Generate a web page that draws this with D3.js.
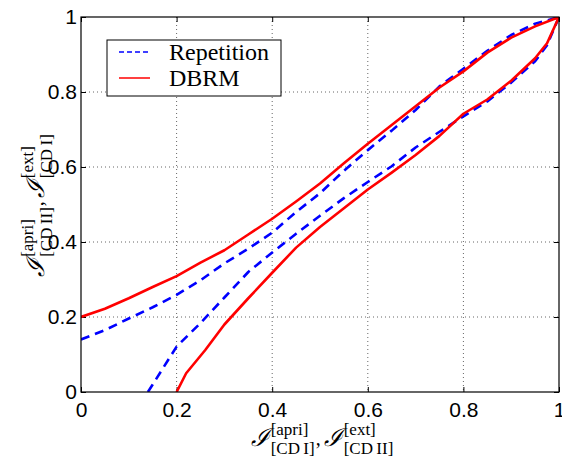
<!DOCTYPE html>
<html>
<head>
<meta charset="utf-8">
<script src="https://cdn.jsdelivr.net/npm/d3@7"></script>
<style>
  body { margin: 0; background: #fff; }
  .tick text { font-family: "Liberation Sans", Arial, sans-serif; font-size: 21px; fill: #000; }
</style>
</head>
<body>
<div id="chart"></div>
<script>
// ticks
var TICK_VALUES = [0, 0.2, 0.4, 0.6, 0.8, 1];
var TICK_LABELS = ["0", "0.2", "0.4", "0.6", "0.8", "1"];

// legend
var SERIES_NAMES = ["Repetition", "DBRM"];

// Repetition (blue dashed), upper branch
var repUpperX = [0, 0.05, 0.1, 0.15, 0.2, 0.25, 0.3, 0.35, 0.4, 0.45, 0.5, 0.55, 0.6, 0.65, 0.7, 0.75, 0.8, 0.85, 0.9, 0.95, 1];
var repUpperY = [0.14, 0.165, 0.196, 0.226, 0.259, 0.298, 0.343, 0.382, 0.425, 0.48, 0.53, 0.59, 0.645, 0.697, 0.752, 0.815, 0.862, 0.91, 0.952, 0.982, 1];
// Repetition, lower branch
var repLowerX = [0.14, 0.15, 0.2, 0.25, 0.3, 0.35, 0.4, 0.45, 0.5, 0.55, 0.6, 0.65, 0.7, 0.75, 0.8, 0.85, 0.9, 0.95, 0.975, 1];
var repLowerY = [0, 0.02, 0.121, 0.184, 0.252, 0.32, 0.372, 0.422, 0.47, 0.517, 0.56, 0.602, 0.652, 0.694, 0.735, 0.775, 0.825, 0.882, 0.925, 1];
// DBRM (red solid), upper branch
var dbrmUpperX = [0, 0.05, 0.1, 0.15, 0.2, 0.25, 0.3, 0.35, 0.4, 0.45, 0.5, 0.55, 0.6, 0.65, 0.7, 0.75, 0.8, 0.85, 0.9, 0.95, 1];
var dbrmUpperY = [0.2, 0.222, 0.25, 0.28, 0.309, 0.345, 0.378, 0.42, 0.462, 0.508, 0.556, 0.61, 0.662, 0.712, 0.762, 0.812, 0.855, 0.905, 0.945, 0.975, 1];
// DBRM, lower branch
var dbrmLowerX = [0.2, 0.22, 0.26, 0.3, 0.35, 0.4, 0.45, 0.5, 0.55, 0.6, 0.65, 0.7, 0.75, 0.8, 0.85, 0.9, 0.95, 0.975, 1];
var dbrmLowerY = [0, 0.05, 0.112, 0.18, 0.25, 0.318, 0.385, 0.44, 0.49, 0.54, 0.585, 0.632, 0.683, 0.742, 0.78, 0.83, 0.89, 0.93, 1];

function zip(xs, ys) {
  return xs.map(function(x, i) { return [x, ys[i]]; });
}

var curves = [
  {pts: zip(repUpperX, repUpperY), color: "#0000ff", dash: "9,6"},
  {pts: zip(repLowerX, repLowerY), color: "#0000ff", dash: "9,6"},
  {pts: zip(dbrmUpperX, dbrmUpperY), color: "#ff0000", dash: null},
  {pts: zip(dbrmLowerX, dbrmLowerY), color: "#ff0000", dash: null}
];

var W = 562, H = 459;
var margin = {top: 17, right: 3, bottom: 67, left: 81};
var width = W - margin.left - margin.right;
var height = H - margin.top - margin.bottom;

var svg = d3.select("#chart").append("svg")
    .attr("width", W)
    .attr("height", H);
var g = svg.append("g")
    .attr("transform", "translate(" + margin.left + "," + margin.top + ")");

var x = d3.scaleLinear().domain([0, 1]).range([0, width]);
var y = d3.scaleLinear().domain([0, 1]).range([height, 0]);

// dotted grid
var grid = TICK_VALUES.slice(1, -1);
g.append("g").selectAll("line").data(grid).enter().append("line")
    .attr("x1", function(d) { return x(d); }).attr("x2", function(d) { return x(d); })
    .attr("y1", 0).attr("y2", height)
    .attr("stroke", "#666").attr("stroke-dasharray", "1,3");
g.append("g").selectAll("line").data(grid).enter().append("line")
    .attr("y1", function(d) { return y(d); }).attr("y2", function(d) { return y(d); })
    .attr("x1", 0).attr("x2", width)
    .attr("stroke", "#666").attr("stroke-dasharray", "1,3");

// axes, ticks pointing inward
var fmt = function(d, i) { return TICK_LABELS[i]; };
g.append("g").attr("transform", "translate(0," + height + ")")
    .call(d3.axisBottom(x).tickValues(TICK_VALUES).tickFormat(fmt).tickSize(-5).tickPadding(10));
g.append("g")
    .call(d3.axisLeft(y).tickValues(TICK_VALUES).tickFormat(fmt).tickSize(-5).tickPadding(4));
g.append("g")
    .call(d3.axisTop(x).tickValues(TICK_VALUES).tickFormat("").tickSize(-5));
g.append("g").attr("transform", "translate(" + width + ",0)")
    .call(d3.axisRight(y).tickValues(TICK_VALUES).tickFormat("").tickSize(-5));
g.selectAll(".domain").remove();
g.selectAll(".tick line").attr("stroke", "#000");

// curves
g.append("clipPath").attr("id", "plotclip")
  .append("rect").attr("x", 0).attr("y", 0).attr("width", width).attr("height", height);

var line = d3.line()
    .x(function(d) { return x(d[0]); })
    .y(function(d) { return y(d[1]); });

g.append("g").attr("clip-path", "url(#plotclip)")
  .selectAll("path").data(curves).enter().append("path")
    .attr("d", function(d) { return line(d.pts); })
    .attr("fill", "none")
    .attr("stroke", function(d) { return d.color; })
    .attr("stroke-width", 2.6)
    .attr("stroke-linejoin", "round")
    .attr("stroke-dasharray", function(d) { return d.dash; });

// frame
g.append("rect")
    .attr("width", width).attr("height", height)
    .attr("fill", "none").attr("stroke", "#000").attr("stroke-width", 1.2);

// legend
var legend = svg.append("g").attr("transform", "translate(107,40)");
legend.append("rect")
    .attr("width", 174).attr("height", 56)
    .attr("fill", "#fff").attr("stroke", "#000").attr("stroke-width", 1);
var legendItems = [
  {name: SERIES_NAMES[0], color: "#0000ff", dash: "5,3"},
  {name: SERIES_NAMES[1], color: "#ff0000", dash: null}
];
legend.selectAll("g.item").data(legendItems).enter().append("g")
    .attr("class", "item")
    .attr("transform", function(d, i) { return "translate(0," + (12 + i * 26) + ")"; })
    .each(function(d) {
      var it = d3.select(this);
      it.append("line").attr("x1", 12).attr("x2", 43).attr("y1", 0).attr("y2", 0)
        .attr("stroke", d.color).attr("stroke-width", 1.5).attr("stroke-dasharray", d.dash);
      it.append("text").attr("x", 62).attr("y", 8)
        .style("font-family", "'Liberation Serif', 'Times New Roman', serif")
        .style("font-size", "24px")
        .text(d.name);
    });

// math axis labels
var serif = "'Liberation Serif', 'Times New Roman', serif";
function mathLabel(parent, terms) {
  var lg = parent.append("g");
  var pos = 0;
  terms.forEach(function(t, i) {
    if (i > 0) {
      var c = lg.append("text").attr("x", pos + 1).attr("y", -1)
          .style("font-family", serif).style("font-size", "20px").text(",");
      pos += c.node().getComputedTextLength() + 4;
    }
    var m = lg.append("text").attr("x", pos).attr("y", 0)
        .style("font-family", "'DejaVu Serif', serif").style("font-style", "italic")
        .style("font-size", "25px").text("\u2110");
    pos += m.node().getComputedTextLength() + 1;
    var sp = lg.append("text").attr("x", pos).attr("y", -11)
        .style("font-family", serif).style("font-size", "17px").text(t.sup);
    var sb = lg.append("text").attr("x", pos).attr("y", 8)
        .style("font-family", serif).style("font-size", "17px").text(t.sub);
    pos += Math.max(sp.node().getComputedTextLength(), sb.node().getComputedTextLength());
  });
  lg.selectAll("text").attr("transform", "translate(" + (-pos / 2) + ",0)");
  return lg;
}

var xl = mathLabel(svg, [{sup: "[apri]", sub: "[CD\u2009I]"}, {sup: "[ext]", sub: "[CD\u2009II]"}]);
xl.attr("transform", "translate(" + (margin.left + width / 2 + 2) + ",446)");

var yl = mathLabel(svg, [{sup: "[apri]", sub: "[CD\u2009II]"}, {sup: "[ext]", sub: "[CD\u2009I]"}]);
yl.attr("transform", "translate(44," + (margin.top + height / 2 + 1) + ") rotate(-90)");
</script>
</body>
</html>
